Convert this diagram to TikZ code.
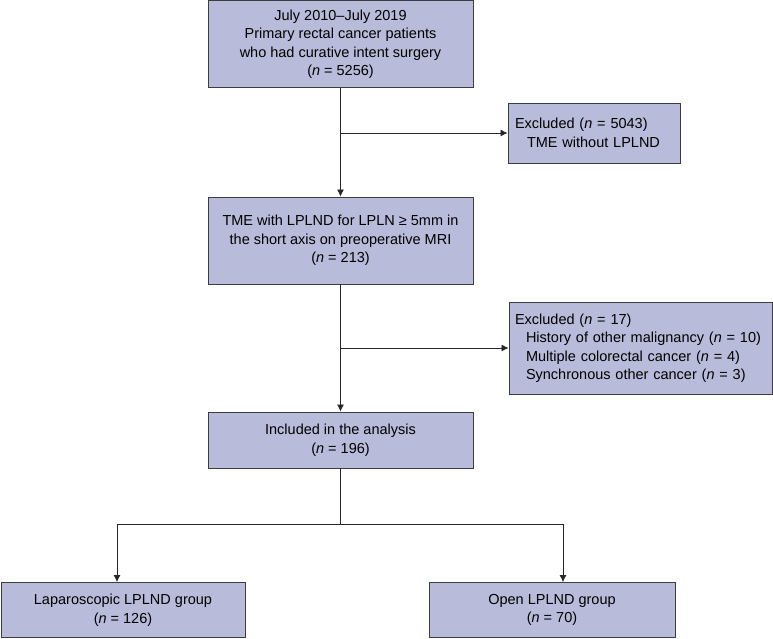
\documentclass[tikz,border=0pt]{standalone}
\usepackage{fontspec}
\setmainfont{Liberation Sans}
\usetikzlibrary{arrows.meta}
\definecolor{boxfill}{RGB}{185,187,218}
\definecolor{boxline}{RGB}{60,60,65}
\begin{document}
\begin{tikzpicture}[x=1pt,y=-1pt,
  box/.style={draw=boxline,line width=0.9pt,fill=boxfill,inner sep=0pt,align=center,
    font=\fontsize{14.5}{18.5}\selectfont},
  lbox/.style={box,align=left,anchor=west},
  conn/.style={draw=black!85,line width=0.8pt},
  arr/.style={conn,-{Latex[length=7pt,width=7pt]}}]
\useasboundingbox (0,0) rectangle (773,638);
\node[box,minimum width=265pt,minimum height=87pt] (b1) at (340.5,44)
  {July 2010--July 2019\\Primary rectal cancer patients\\who had curative intent surgery\\(\textit{n} = 5256)};
\node[box,minimum width=172pt,minimum height=60pt,align=left,text width=158pt] (ex1) at (594,133)
  {Excluded (\textit{n} = 5043)\\\hspace*{12pt}TME without LPLND};
\node[box,minimum width=265pt,minimum height=87pt] (b2) at (340.5,240.5)
  {TME with LPLND for LPLN ≥ 5mm in\\the short axis on preoperative MRI\\(\textit{n} = 213)};
\node[box,minimum width=263pt,minimum height=92pt,align=left,text width=251pt] (ex2) at (640.5,348)
  {Excluded (\textit{n} = 17)\\\hspace*{11pt}History of other malignancy (\textit{n} = 10)\\\hspace*{11pt}Multiple colorectal cancer (\textit{n} = 4)\\\hspace*{11pt}Synchronous other cancer (\textit{n} = 3)};
\node[box,minimum width=265pt,minimum height=56pt] (b3) at (340.5,440)
  {Included in the analysis\\(\textit{n} = 196)};
\node[box,minimum width=244pt,minimum height=55pt] (l) at (123,610)
  {Laparoscopic LPLND group\\(\textit{n} = 126)};
\node[box,minimum width=246pt,minimum height=55pt] (r) at (552,610)
  {Open LPLND group\\(\textit{n} = 70)};
\coordinate (j1) at (340.5,133);
\coordinate (j2) at (340.5,348);
\coordinate (split) at (340.5,524);
\coordinate (sl) at (117,524);
\coordinate (sr) at (563,524);
\draw[arr] (b1.south) -- (b2.north);
\draw[arr] (j1) -- (ex1.west);
\draw[arr] (b2.south) -- (b3.north);
\draw[arr] (j2) -- (ex2.west);
\draw[conn] (b3.south) -- (split);
\draw[conn] (sl) -- (sr);
\draw[arr] (sl) -- (sl |- l.north);
\draw[arr] (sr) -- (sr |- r.north);
\end{tikzpicture}
\end{document}
